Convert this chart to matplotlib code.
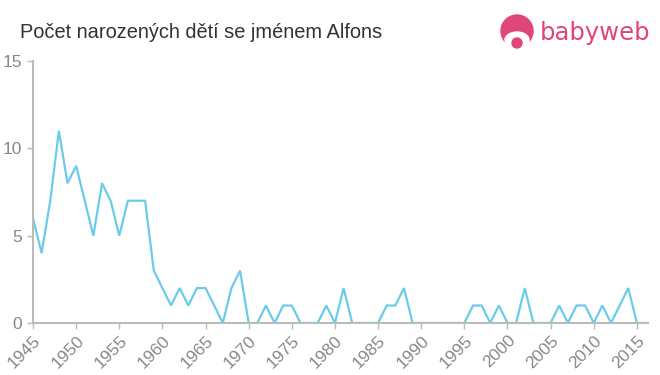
from matplotlib import pyplot as plt
from matplotlib.patches import Circle, Ellipse
import numpy as np

plt.rcParams['font.family'] = ['Liberation Sans', 'DejaVu Sans']

years = list(range(1945, 2017))
counts = [6, 4, 7, 11, 8, 9, 7, 5, 8, 7,
          5, 7, 7, 7, 3, 2, 1, 2, 1, 2,
          2, 1, 0, 2, 3, 0, 0, 1, 0, 1,
          1, 0, 0, 0, 1, 0, 2, 0, 0, 0,
          0, 1, 1, 2, 0, 0, 0, 0, 0, 0,
          0, 1, 1, 0, 1, 0, 0, 2, 0, 0,
          0, 1, 0, 1, 1, 0, 1, 0, 1, 2,
          0, 0]
xticks = list(range(1945, 2016, 5))
yticks = [0, 5, 10, 15]

title = "Počet narozených dětí se jménem Alfons"
grey = "#888888"
axis_col = "#bbbbbb"

fig = plt.figure(figsize=(6.6, 3.75), dpi=100)
ax = fig.add_axes([0.05, 0.1387, 0.932, 0.6986])

ax.plot(years, counts, color="#6ccbea", linewidth=1.6, solid_joinstyle="miter")
ax.set_xlim(1945, 2016.3)
ax.set_ylim(0, 15)

ax.set_xticks(xticks)
ax.set_xticklabels([str(x) for x in xticks], rotation=45, ha="right",
                   rotation_mode="anchor", color=grey, fontsize=12.5)
ax.set_yticks(yticks)
ax.set_yticklabels([str(y) for y in yticks], color=grey, fontsize=12.5)
ax.tick_params(axis="both", color=axis_col, length=4, width=1)
ax.tick_params(axis="x", pad=3)
ax.tick_params(axis="y", pad=4)

for s in ["top", "right"]:
    ax.spines[s].set_visible(False)
for s in ["left", "bottom"]:
    ax.spines[s].set_color(axis_col)
    ax.spines[s].set_linewidth(1.5)

fig.text(20 / 660, 1 - 32 / 375, title, fontsize=14.4, color="#333333",
         va="center", ha="left")

# logo
pink = "#e0457b"
logo = fig.add_axes([497 / 660, 1 - 52 / 375, 40 / 660, 40 / 375])
logo.set_xlim(0, 40)
logo.set_ylim(0, 40)
logo.set_aspect("equal")
logo.axis("off")
logo.add_patch(Circle((20, 21), 16, color=pink))
logo.add_patch(Ellipse((20, 12), 24, 16, color="white"))
logo.add_patch(Circle((20, 9), 5, color=pink))
fig.text(540 / 660, 1 - 33 / 375, "babyweb", fontsize=17.5, color=pink,
         va="center", ha="left", family="DejaVu Sans")

plt.savefig("out.png", dpi=100)
